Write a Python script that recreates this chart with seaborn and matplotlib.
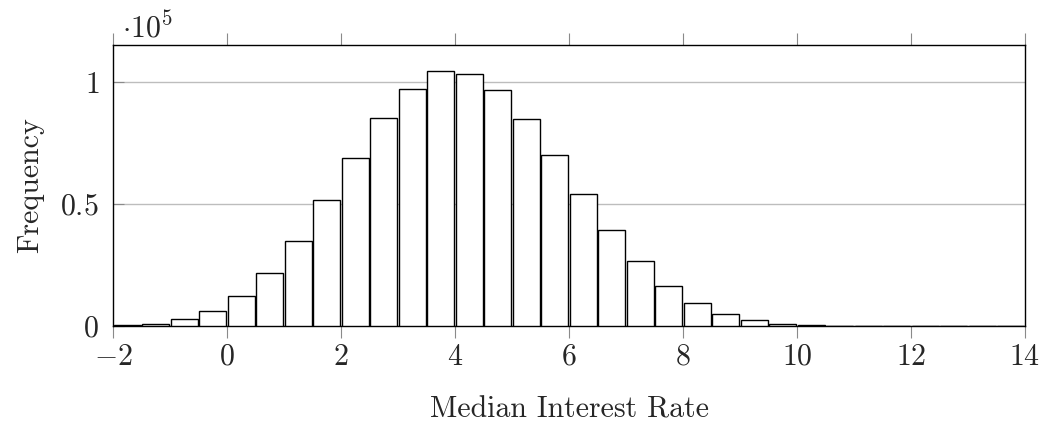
import numpy as np
import pandas as pd
import matplotlib
matplotlib.use("Agg")
import matplotlib.pyplot as plt
from matplotlib.ticker import FuncFormatter
import seaborn as sns

# Histogram bins (left edges, width 0.5) and frequencies
bin_left = [-2.0, -1.5, -1.0, -0.5, 0.0, 0.5, 1.0, 1.5, 2.0, 2.5, 3.0, 3.5,
            4.0, 4.5, 5.0, 5.5, 6.0, 6.5, 7.0, 7.5, 8.0, 8.5, 9.0, 9.5,
            10.0, 10.5, 11.0, 11.5, 12.0, 12.5, 13.0, 13.5]
frequency = [400, 1000, 2800, 6000, 12200, 21900, 35000, 51500, 68700, 85200,
             97200, 104600, 103100, 96800, 84700, 70200, 54200, 39300, 26600,
             16500, 9400, 4800, 2300, 800, 300, 120, 50, 25, 12, 6, 3, 1]
bin_width = 0.5
x_label = "Median Interest Rate"
y_label = "Frequency"
x_ticks = [-2, 0, 2, 4, 6, 8, 10, 12, 14]
y_ticks = [0, 50000, 100000]

sns.set_theme(style="white")
plt.rcParams["font.family"] = ["cmr10", "DejaVu Serif"]
plt.rcParams["mathtext.fontset"] = "cm"
plt.rcParams["axes.formatter.use_mathtext"] = True

FS = 21.5

df = pd.DataFrame({"x": np.array(bin_left) + bin_width / 2, "w": frequency})
edges = list(bin_left) + [bin_left[-1] + bin_width]

fig = plt.figure(figsize=(10.51, 4.23), dpi=100)
ax = fig.add_axes([113 / 1051, 1 - 326 / 423, (1025 - 113) / 1051, (326 - 45) / 423])

sns.histplot(data=df, x="x", weights="w", bins=edges, shrink=0.93,
             color="white", edgecolor="black", linewidth=1.0, alpha=1.0, ax=ax,
             zorder=3)

ax.set_xlim(-2, 14)
ax.set_ylim(0, 115160)
ax.set_xticks(x_ticks)
ax.set_yticks(y_ticks)
ax.xaxis.set_major_formatter(FuncFormatter(lambda v, p: f"${v:g}$"))
ax.yaxis.set_major_formatter(FuncFormatter(lambda v, p: f"${v/1e5:g}$"))

ax.grid(axis="y", color="#bdbdbd", linewidth=1.0, zorder=0)
ax.grid(axis="x", visible=False)
for s in ax.spines.values():
    s.set_color("black")
    s.set_linewidth(1.0)
    s.set_visible(True)

ax.tick_params(axis="x", which="major", direction="out", length=8.6, width=0.8,
               color="#8a8a8a", top=True, bottom=True, labelsize=FS, pad=4)
ax.tick_params(axis="y", which="major", direction="in", length=8, width=0.8,
               color="#8a8a8a", left=True, right=False, labelsize=FS, pad=10)

ax.set_xlabel(x_label, fontsize=FS, labelpad=18)
ax.set_ylabel(y_label, fontsize=FS, labelpad=12)

fig.text(122 / 1051, 1 - 37 / 423, r"$\cdot 10^5$", fontsize=FS,
         ha="left", va="baseline")

fig.savefig("out.png", dpi=100)
